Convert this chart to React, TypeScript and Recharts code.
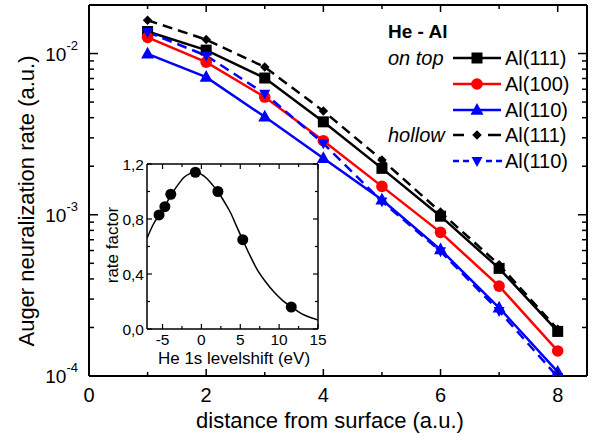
import React from 'react';
import { ComposedChart, Line, XAxis, YAxis, Scatter } from 'recharts';

const FONT = '"Liberation Sans", Arial, Helvetica, sans-serif';

// ---------- main chart data ----------
const distance = [1, 2, 3, 4, 5, 6, 7, 8];
const onTopAl111 = [0.0137, 0.0105, 0.00705, 0.00377, 0.00194, 0.00098, 0.000465, 0.000189];
const onTopAl100 = [0.0126, 0.00884, 0.00537, 0.00288, 0.0015, 0.000778, 0.000361, 0.000143];
const onTopAl110 = [0.00995, 0.00714, 0.00405, 0.00224, 0.00124, 0.000608, 0.000265, 0.000106];
const hollowAl111 = [0.0161, 0.0122, 0.00824, 0.0044, 0.00219, 0.00104, 0.00049, 0.000195];
const hollowAl110 = [0.0136, 0.0097, 0.00564, 0.00277, 0.00121, 0.000594, 0.000253, 0.0000985];

const xTicks = [0, 1, 2, 3, 4, 5, 6, 7, 8];
const xLabelTicks = [0, 2, 4, 6, 8];
const yTicks = [
  0.0001, 0.0002, 0.0003, 0.0004, 0.0005, 0.0006, 0.0007, 0.0008, 0.0009,
  0.001, 0.002, 0.003, 0.004, 0.005, 0.006, 0.007, 0.008, 0.009,
  0.01, 0.02,
];
const yLabelTicks = [0.0001, 0.001, 0.01];

// ---------- inset data ----------
const insetShift = [-5.45, -4.7, -3.94, -0.78, 2.12, 5.32, 11.56];
const insetFactor = [0.83, 0.89, 0.98, 1.14, 1.0, 0.65, 0.16];
const curveShift = [-7, -6.2, -5.45, -4.7, -3.9, -3.0, -2.3, -1.5, -0.8, 0, 0.7, 1.4, 2.1, 3.0, 3.8, 4.5, 5.3, 6.2, 7.2, 8.3, 9.4, 10.5, 11.6, 12.5, 13.3, 14.2, 15];
const curveFactor = [0.66, 0.76, 0.83, 0.895, 0.975, 1.05, 1.1, 1.13, 1.14, 1.125, 1.095, 1.05, 1.0, 0.92, 0.84, 0.75, 0.65, 0.54, 0.43, 0.34, 0.265, 0.205, 0.16, 0.125, 0.1, 0.08, 0.066];
const insetXTicks = [-5, -2.5, 0, 2.5, 5, 7.5, 10, 12.5, 15];
const insetXLabelTicks = [-5, 0, 5, 10, 15];
const insetYTicks = [0, 0.2, 0.4, 0.6, 0.8, 1.0, 1.2];
const insetYLabelTicks = [0, 0.4, 0.8, 1.2];

const BLACK = '#000000';
const RED = '#ff0000';
const BLUE = '#0000ff';

const mainRows = distance.map((x, i) => ({
  x,
  t111: onTopAl111[i],
  t100: onTopAl100[i],
  t110: onTopAl110[i],
  h111: hollowAl111[i],
  h110: hollowAl110[i],
}));
const insetPoints = insetShift.map((x, i) => ({ x, y: insetFactor[i] }));
const curveRows = curveShift.map((x, i) => ({ x, y: curveFactor[i] }));

// ---------- markers ----------
const Square = ({ cx, cy, s = 11, color = BLACK }: any) => (
  <rect x={cx - s / 2} y={cy - s / 2} width={s} height={s} fill={color} />
);
const Circle = ({ cx, cy, r = 5.8, color = RED }: any) => <circle cx={cx} cy={cy} r={r} fill={color} />;
const TriUp = ({ cx, cy, s = 13, color = BLUE }: any) => {
  const h = s * 0.9;
  return (
    <polygon
      points={`${cx},${cy - h * 0.6} ${cx - s / 2},${cy + h * 0.4} ${cx + s / 2},${cy + h * 0.4}`}
      fill={color}
    />
  );
};
const TriDown = ({ cx, cy, s = 11, color = BLUE }: any) => {
  const h = s * 0.9;
  return (
    <polygon
      points={`${cx},${cy + h * 0.6} ${cx - s / 2},${cy - h * 0.4} ${cx + s / 2},${cy - h * 0.4}`}
      fill={color}
    />
  );
};
const Diamond = ({ cx, cy, s = 9.5, color = BLACK }: any) => (
  <polygon
    points={`${cx},${cy - s / 2} ${cx + s / 2},${cy} ${cx},${cy + s / 2} ${cx - s / 2},${cy}`}
    fill={color}
  />
);

const dotOf = (Comp: any) => (p: any) => {
  if (p.cx == null || p.cy == null) return <g key={`n-${p.index}`} />;
  return (
    <g key={`d-${p.index}`}>
      <Comp cx={p.cx} cy={p.cy} />
    </g>
  );
};

// ---------- tick renderers ----------
const isDecade = (v: number) => Math.abs(Math.log10(v) - Math.round(Math.log10(v))) < 1e-9;

const BottomTick = (p: any) => {
  const { x, y, payload } = p;
  const v = payload.value;
  const major = xLabelTicks.includes(v);
  return (
    <g>
      <line x1={x} x2={x} y1={y} y2={y - (major ? 7 : 4)} stroke={BLACK} strokeWidth={1.5} />
      {major && (
        <text x={x} y={y + 26} textAnchor="middle" fontSize={20} fontFamily={FONT} fill={BLACK}>
          {v}
        </text>
      )}
    </g>
  );
};
const TopTick = (p: any) => {
  const { x, y, payload } = p;
  const major = xLabelTicks.includes(payload.value);
  return <line x1={x} x2={x} y1={y} y2={y + (major ? 7 : 4)} stroke={BLACK} strokeWidth={1.5} />;
};
const LeftTick = (p: any) => {
  const { x, y, payload } = p;
  const v = payload.value;
  const major = isDecade(v);
  const exp = Math.round(Math.log10(v));
  return (
    <g>
      <line x1={x} x2={x + (major ? 9 : 5)} y1={y} y2={y} stroke={BLACK} strokeWidth={1.5} />
      {major && yLabelTicks.some((t) => Math.abs(t - v) < 1e-12) && (
        <text x={x - 11} y={y + 7} textAnchor="end" fontSize={19} fontFamily={FONT} fill={BLACK}>
          10
          <tspan dy={-11} fontSize={13}>
            {`${exp}`}
          </tspan>
        </text>
      )}
    </g>
  );
};
const RightTick = (p: any) => {
  const { x, y, payload } = p;
  const major = isDecade(payload.value);
  return <line x1={x} x2={x - (major ? 9 : 5)} y1={y} y2={y} stroke={BLACK} strokeWidth={1.5} />;
};

const fmtComma = (v: number) => v.toFixed(1).replace('.', ',');
const InsetBottomTick = (p: any) => {
  const { x, y, payload } = p;
  const v = payload.value;
  const major = insetXLabelTicks.includes(v);
  return (
    <g>
      <line x1={x} x2={x} y1={y} y2={y - (major ? 5 : 3)} stroke={BLACK} strokeWidth={1.2} />
      {major && (
        <text x={x} y={y + 16} textAnchor="middle" fontSize={15.5} fontFamily={FONT} fill={BLACK}>
          {v}
        </text>
      )}
    </g>
  );
};
const InsetTopTick = (p: any) => {
  const { x, y, payload } = p;
  const major = insetXLabelTicks.includes(payload.value);
  return <line x1={x} x2={x} y1={y} y2={y + (major ? 5 : 3)} stroke={BLACK} strokeWidth={1.2} />;
};
const InsetLeftTick = (p: any) => {
  const { x, y, payload } = p;
  const v = payload.value;
  const major = insetYLabelTicks.some((t) => Math.abs(t - v) < 1e-9);
  return (
    <g>
      <line x1={x} x2={x + (major ? 5 : 3)} y1={y} y2={y} stroke={BLACK} strokeWidth={1.2} />
      {major && (
        <text x={x - 3} y={y + 6} textAnchor="end" fontSize={15.5} fontFamily={FONT} fill={BLACK}>
          {fmtComma(v)}
        </text>
      )}
    </g>
  );
};
const InsetRightTick = (p: any) => {
  const { x, y, payload } = p;
  const major = insetYLabelTicks.some((t) => Math.abs(t - payload.value) < 1e-9);
  return <line x1={x} x2={x - (major ? 5 : 3)} y1={y} y2={y} stroke={BLACK} strokeWidth={1.2} />;
};

const axisLineMain = { stroke: BLACK, strokeWidth: 2 };
const axisLineInset = { stroke: BLACK, strokeWidth: 1.5 };

// ---------- legend ----------
const legendRows = [
  { label: 'Al(111)', color: BLACK, kind: 'solid', Marker: Square },
  { label: 'Al(100)', color: RED, kind: 'solid', Marker: Circle },
  { label: 'Al(110)', color: BLUE, kind: 'solid', Marker: TriUp },
  { label: 'Al(111)', color: BLACK, kind: 'dash', Marker: Diamond },
  { label: 'Al(110)', color: BLUE, kind: 'shortdash', Marker: TriDown },
];
const legendY = [58, 84, 110, 135, 161];

const LegendLine = ({ kind, color, cy }: any) => {
  if (kind === 'solid') return <line x1={453} x2={501} y1={cy} y2={cy} stroke={color} strokeWidth={2.5} />;
  if (kind === 'dash')
    return (
      <g>
        <line x1={453} x2={464} y1={cy} y2={cy} stroke={color} strokeWidth={2.5} />
        <line x1={488} x2={501} y1={cy} y2={cy} stroke={color} strokeWidth={2.5} />
      </g>
    );
  return (
    <g>
      <line x1={453} x2={469} y1={cy} y2={cy} stroke={color} strokeWidth={2.5} strokeDasharray="6 4" />
      <line x1={486} x2={502} y1={cy} y2={cy} stroke={color} strokeWidth={2.5} strokeDasharray="6 4" />
    </g>
  );
};

export default function App() {
  return (
    <div style={{ position: 'absolute', left: 0, top: 0, width: 599, height: 446, background: '#fff', fontFamily: FONT }}>
      <ComposedChart
        width={599}
        height={446}
        data={mainRows}
        margin={{ top: 0, right: 0, bottom: 30, left: 29 }}
      >
        <XAxis
          xAxisId="main"
          dataKey="x"
          type="number"
          domain={[0, 8.5]}
          allowDataOverflow
          orientation="bottom"
          height={40}
          ticks={xTicks}
          interval={0}
          tickSize={0}
          tickMargin={0}
          tickLine={false}
          axisLine={axisLineMain}
          tick={BottomTick}
        />
        <XAxis
          xAxisId="top"
          dataKey="x"
          type="number"
          domain={[0, 8.5]}
          allowDataOverflow
          orientation="top"
          height={5}
          ticks={xTicks}
          interval={0}
          tickSize={0}
          tickMargin={0}
          tickLine={false}
          axisLine={axisLineMain}
          tick={TopTick}
        />
        <YAxis
          yAxisId="main"
          scale="log"
          type="number"
          domain={[0.0001, 0.02]}
          allowDataOverflow
          width={60}
          ticks={yTicks}
          interval={0}
          tickSize={0}
          tickMargin={0}
          tickLine={false}
          axisLine={axisLineMain}
          tick={LeftTick}
        />
        <YAxis
          yAxisId="right"
          orientation="right"
          scale="log"
          type="number"
          domain={[0.0001, 0.02]}
          allowDataOverflow
          width={12}
          ticks={yTicks}
          interval={0}
          tickSize={0}
          tickMargin={0}
          tickLine={false}
          axisLine={axisLineMain}
          tick={RightTick}
        />
        <Line xAxisId="main" yAxisId="main" dataKey="t111" stroke={BLACK} strokeWidth={2.5} isAnimationActive={false} dot={dotOf(Square)} activeDot={false} />
        <Line xAxisId="main" yAxisId="main" dataKey="t100" stroke={RED} strokeWidth={2.5} isAnimationActive={false} dot={dotOf(Circle)} activeDot={false} />
        <Line xAxisId="main" yAxisId="main" dataKey="t110" stroke={BLUE} strokeWidth={2.5} isAnimationActive={false} dot={dotOf(TriUp)} activeDot={false} />
        <Line xAxisId="main" yAxisId="main" dataKey="h111" stroke={BLACK} strokeWidth={2.5} strokeDasharray="10 6" isAnimationActive={false} dot={dotOf(Diamond)} activeDot={false} />
        <Line xAxisId="main" yAxisId="main" dataKey="h110" stroke={BLUE} strokeWidth={2.5} strokeDasharray="10 6" isAnimationActive={false} dot={dotOf(TriDown)} activeDot={false} />
      </ComposedChart>

      {/* inset */}
      <div style={{ position: 'absolute', left: 100, top: 150, width: 230, height: 230 }}>
        <ComposedChart width={230} height={230} margin={{ top: 10, right: 4, bottom: 21, left: 7 }}>
          <XAxis
            xAxisId="ib"
            dataKey="x"
            type="number"
            domain={[-7, 15]}
            allowDataOverflow
            orientation="bottom"
            height={30}
            ticks={insetXTicks}
            interval={0}
            tickSize={0}
            tickMargin={0}
            tickLine={false}
            axisLine={axisLineInset}
            tick={InsetBottomTick}
          />
          <XAxis
            xAxisId="it"
            dataKey="x"
            type="number"
            domain={[-7, 15]}
            allowDataOverflow
            orientation="top"
            height={4}
            ticks={insetXTicks}
            interval={0}
            tickSize={0}
            tickMargin={0}
            tickLine={false}
            axisLine={axisLineInset}
            tick={InsetTopTick}
          />
          <YAxis
            yAxisId="il"
            dataKey="y"
            type="number"
            domain={[0, 1.2]}
            allowDataOverflow
            width={40}
            ticks={insetYTicks}
            interval={0}
            tickSize={0}
            tickMargin={0}
            tickLine={false}
            axisLine={axisLineInset}
            tick={InsetLeftTick}
          />
          <YAxis
            yAxisId="ir"
            orientation="right"
            dataKey="y"
            type="number"
            domain={[0, 1.2]}
            allowDataOverflow
            width={8}
            ticks={insetYTicks}
            interval={0}
            tickSize={0}
            tickMargin={0}
            tickLine={false}
            axisLine={axisLineInset}
            tick={InsetRightTick}
          />
          <Line
            xAxisId="ib"
            yAxisId="il"
            data={curveRows}
            dataKey="y"
            type="monotone"
            stroke={BLACK}
            strokeWidth={1.5}
            dot={false}
            activeDot={false}
            isAnimationActive={false}
          />
          <Scatter
            xAxisId="ib"
            yAxisId="il"
            data={insetPoints}
            dataKey="y"
            fill={BLACK}
            isAnimationActive={false}
            shape={(p: any) => <circle cx={p.cx} cy={p.cy} r={5.5} fill={BLACK} />}
          />
        </ComposedChart>
      </div>

      {/* titles and legend */}
      <svg
        width={599}
        height={446}
        style={{ position: 'absolute', left: 0, top: 0, pointerEvents: 'none' }}
        fontFamily={FONT}
      >
        <text x={330} y={428} textAnchor="middle" fontSize={22} fill={BLACK}>
          distance from surface (a.u.)
        </text>
        <text transform="translate(34,201) rotate(-90)" textAnchor="middle" fontSize={22} fill={BLACK}>
          Auger neuralization rate (a.u.)
        </text>
        <text x={234} y={364} textAnchor="middle" fontSize={17} fill={BLACK}>
          He 1s levelshift (eV)
        </text>
        <text transform="translate(118,245) rotate(-90)" textAnchor="middle" fontSize={17} fill={BLACK}>
          rate factor
        </text>

        <text x={388} y={38} fontSize={19} fontWeight="bold" fill={BLACK}>
          He - Al
        </text>
        <text x={388} y={legendY[0] + 7} fontSize={20} fontStyle="italic" fill={BLACK}>
          on top
        </text>
        <text x={388} y={legendY[3] + 7} fontSize={20} fontStyle="italic" fill={BLACK}>
          hollow
        </text>
        {legendRows.map((r, i) => {
          const cy = legendY[i];
          const M = r.Marker;
          return (
            <g key={`lg-${i}`}>
              <LegendLine kind={r.kind} color={r.color} cy={cy} />
              <M cx={477} cy={cy} color={r.color} />
              <text x={505} y={cy + 7} fontSize={20} fill={BLACK}>
                {r.label}
              </text>
            </g>
          );
        })}
      </svg>
    </div>
  );
}
